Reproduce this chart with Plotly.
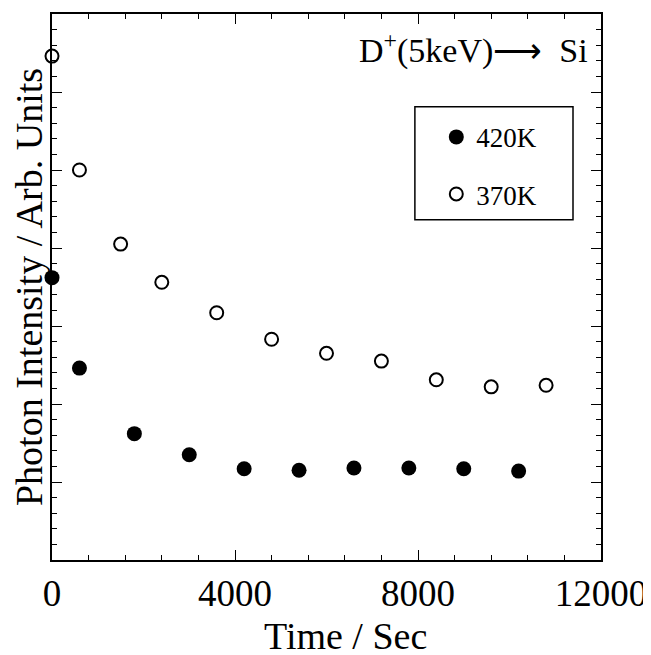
import plotly.graph_objects as go

# Data
t_420 = [0, 600, 1800, 3000, 4200, 5400, 6600, 7800, 9000, 10200]
i_420 = [3.62, 2.46, 1.62, 1.35, 1.17, 1.15, 1.18, 1.18, 1.17, 1.14]

t_370 = [0, 600, 1500, 2400, 3600, 4800, 6000, 7200, 8400, 9600, 10800]
i_370 = [6.46, 5.00, 4.05, 3.56, 3.17, 2.83, 2.65, 2.55, 2.31, 2.22, 2.24]

x_ticks = [0, 4000, 8000, 12000]
x_ticklabels = ["0", "4000", "8000", "12000"]

FONT = "Liberation Serif, Times New Roman, serif"

fig = go.Figure()
fig.add_trace(go.Scatter(
    x=t_420, y=i_420, mode="markers", name="420K", legendgroup="a",
    marker=dict(symbol="circle", size=15, color="black", line=dict(width=0)),
    cliponaxis=False,
))
fig.add_trace(go.Scatter(
    x=t_370, y=i_370, mode="markers", name="370K", legendgroup="b",
    marker=dict(symbol="circle-open", size=13, color="black", line=dict(width=2, color="black")),
    cliponaxis=False,
))

axis_common = dict(
    showline=True, linecolor="black", linewidth=2, mirror="ticks",
    ticks="inside", ticklen=10, tickwidth=1.2, tickcolor="black",
    showgrid=False, zeroline=False, automargin=False,
)

fig.update_xaxes(
    range=[0, 12000], tickvals=x_ticks, ticktext=x_ticklabels,
    minor=dict(dtick=800, ticklen=5, tickwidth=1, tickcolor="black", ticks="inside"),
    tickfont=dict(family=FONT, size=37, color="black"),
    **axis_common,
)
fig.update_yaxes(
    range=[0, 7], dtick=1, showticklabels=False,
    minor=dict(dtick=0.2, ticklen=5, tickwidth=1, tickcolor="black", ticks="inside"),
    title=dict(text="Photon Intensity / Arb. Units", font=dict(family=FONT, size=38, color="black"), standoff=0),
    **axis_common,
)

# x-axis title (placed slightly right of centre, as in the reference)
fig.add_annotation(
    text="Time / Sec", xref="paper", yref="paper",
    x=0.534, y=-0.140, xanchor="center", yanchor="middle", showarrow=False,
    font=dict(family=FONT, size=38, color="black"),
)

fig.add_annotation(
    text="D<sup>+</sup>(5keV)\u27f6  Si", xref="paper", yref="paper",
    x=0.98, y=0.936, xanchor="right", yanchor="middle", showarrow=False,
    font=dict(family=FONT, size=34, color="black"),
)

fig.add_shape(type="rect", xref="paper", yref="paper",
              x0=0.661, x1=0.949, y0=0.623, y1=0.830,
              line=dict(color="black", width=1.5), fillcolor="rgba(0,0,0,0)")

# page body has an 8px margin, so the figure is offset by 8px
fig.update_layout(
    width=643, height=647,
    margin=dict(l=44, r=50, t=6, b=95),
    paper_bgcolor="white", plot_bgcolor="white",
    showlegend=True,
    legend=dict(
        x=0.70, y=0.819, xanchor="left", yanchor="top",
        bgcolor="rgba(0,0,0,0)", borderwidth=0,
        font=dict(family=FONT, size=27, color="black"),
        traceorder="grouped", tracegroupgap=19,
    ),
    font=dict(family=FONT, color="black"),
)

fig.write_html("out.html")
